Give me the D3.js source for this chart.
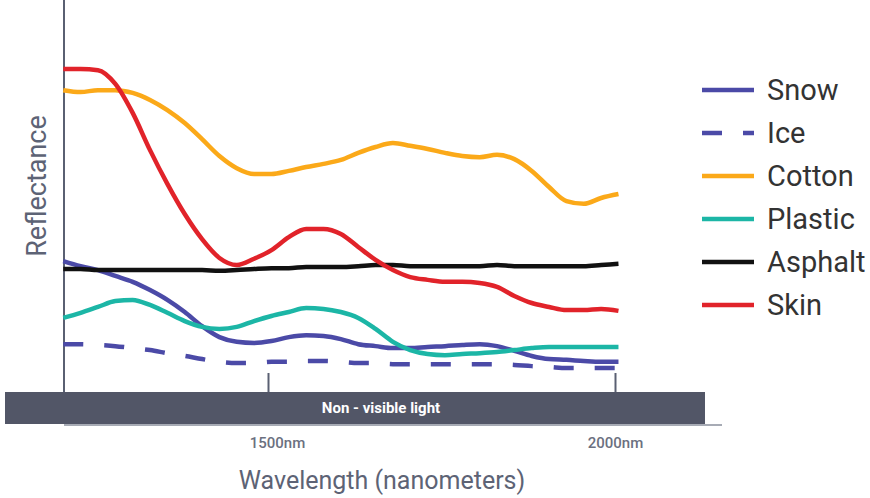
<!DOCTYPE html>
<html>
<head>
<meta charset="utf-8">
<script src="https://cdn.jsdelivr.net/npm/d3@7"></script>
<style>
  body { margin: 0; background: #fff; }
  svg { display: block; font-family: Roboto, "Noto Sans", sans-serif; }
</style>
</head>
<body>
<div id="chart"></div>
<script>
// wavelengths sampled every 25nm
var wavelengths = d3.range(1205, 2006, 25);

// reflectance (%)
var snow = [33.4, 32.1, 31.1, 29.6, 28.1, 26.0, 23.5, 20.4, 16.8, 14.0, 12.8, 12.5, 13.0, 14.0, 14.5, 14.3, 13.5,
  12.2, 11.7, 11.2, 11.2, 11.5, 11.7, 12.0, 12.2, 11.7, 10.5, 9.2, 8.4, 8.2, 7.9, 7.7, 7.7];
var ice = [12.2, 12.2, 12.0, 11.7, 11.2, 10.7, 9.9, 9.2, 8.4, 7.7, 7.4, 7.4, 7.7, 7.7, 7.9, 7.9, 7.7,
  7.4, 7.4, 7.1, 7.1, 7.1, 7.1, 7.1, 7.1, 7.1, 6.9, 6.6, 6.4, 6.1, 6.1, 6.1, 6.1];
var cotton = [77.0, 76.5, 77.0, 77.0, 76.3, 74.5, 71.9, 68.6, 64.5, 60.2, 57.1, 55.6, 55.6, 56.4, 57.4, 58.2, 59.2,
  61.0, 62.5, 63.5, 62.8, 62.0, 61.0, 60.2, 59.9, 60.5, 59.4, 56.4, 52.3, 48.7, 48.0, 49.5, 50.5];
var plastic = [18.9, 20.2, 21.7, 23.2, 23.5, 22.2, 20.2, 18.1, 16.6, 16.1, 16.6, 18.1, 19.4, 20.4, 21.4, 21.2, 20.4,
  18.9, 16.1, 12.8, 10.7, 9.7, 9.4, 9.7, 9.9, 10.2, 10.7, 11.2, 11.5, 11.5, 11.5, 11.5, 11.5];
var asphalt = [31.4, 31.4, 31.1, 31.1, 31.1, 31.1, 31.1, 31.1, 31.1, 30.9, 31.1, 31.4, 31.6, 31.6, 31.9, 31.9, 31.9,
  32.1, 32.4, 32.4, 32.1, 32.1, 32.1, 32.1, 32.1, 32.4, 32.1, 32.1, 32.1, 32.1, 32.1, 32.4, 32.7];
var skin = [82.4, 82.4, 82.1, 78.6, 71.2, 61.7, 53.1, 45.4, 39.0, 34.2, 32.4, 34.0, 36.2, 39.5, 41.6, 41.6, 40.3,
  37.0, 33.7, 31.1, 29.3, 28.6, 28.1, 28.1, 27.8, 26.8, 24.5, 22.7, 21.7, 20.9, 20.9, 21.2, 20.7];

var tickValues = [1500, 2000];
var tickLabels = ["1500nm", "2000nm"];

var seriesNames = ["Snow", "Ice", "Cotton", "Plastic", "Asphalt", "Skin"];
var seriesValues = [snow, ice, cotton, plastic, asphalt, skin];
var seriesColors = ["#4b4aa7", "#4b4aa7", "#fba919", "#1cb6a6", "#111111", "#e1232a"];
var seriesDash = [null, "20,21", null, null, null, null];
var drawOrder = [1, 0, 3, 4, 2, 5];

var width = 870, height = 498;
var axisY = 392;

var svg = d3.select("#chart").append("svg")
  .attr("width", width)
  .attr("height", height);

var x = d3.scaleLinear().domain([1500, 2000]).range([268, 615]);
var y = d3.scaleLinear().domain([0, 100]).range([axisY, 0]);

var line = d3.line()
  .x(function(d) { return x(d[0]); })
  .y(function(d) { return y(d[1]); })
  .curve(d3.curveMonotoneX);

// y axis line
svg.append("line")
  .attr("x1", 64).attr("x2", 64)
  .attr("y1", 0).attr("y2", axisY)
  .attr("stroke", "#5a6072")
  .attr("stroke-width", 2);

// band
svg.append("line")
  .attr("x1", 64).attr("x2", 722)
  .attr("y1", 425).attr("y2", 425)
  .attr("stroke", "#8a8f9c")
  .attr("stroke-width", 1.5);
svg.append("rect")
  .attr("x", 5).attr("y", axisY)
  .attr("width", 700).attr("height", 32)
  .attr("fill", "#525667");
svg.append("text")
  .attr("x", 381).attr("y", 409)
  .attr("text-anchor", "middle")
  .attr("dominant-baseline", "middle")
  .attr("fill", "#fff")
  .attr("font-size", 15)
  .attr("font-weight", 700)
  .text("Non - visible light");

// ticks above band
var tickAxis = svg.append("g")
  .attr("transform", "translate(0," + axisY + ")")
  .call(d3.axisTop(x).tickValues(tickValues).tickSize(19).tickFormat(""));
tickAxis.select(".domain").remove();
tickAxis.selectAll(".tick line").attr("stroke", "#5a6072").attr("stroke-width", 2);

// tick labels below band
var labelAxis = svg.append("g")
  .attr("transform", "translate(0,425)")
  .call(d3.axisBottom(x).tickValues(tickValues).tickSize(0).tickPadding(12)
    .tickFormat(function(d, i) { return tickLabels[i]; }));
labelAxis.select(".domain").remove();
labelAxis.selectAll(".tick text")
  .attr("font-family", "Roboto, sans-serif")
  .attr("font-size", 15)
  .attr("font-weight", 500)
  .attr("fill", "#6b7080")
  .attr("dx", function(d, i) { return i == 0 ? 9 : 0; });

// axis titles
svg.append("text")
  .attr("x", 382).attr("y", 489)
  .attr("text-anchor", "middle")
  .attr("fill", "#5d6375")
  .attr("font-size", 25)
  .text("Wavelength (nanometers)");
svg.append("text")
  .attr("transform", "translate(46,186) rotate(-90)")
  .attr("text-anchor", "middle")
  .attr("fill", "#5d6375")
  .attr("font-size", 27)
  .text("Reflectance");

// curves
drawOrder.forEach(function(i) {
  var pts = wavelengths.map(function(w, j) { return [w, seriesValues[i][j]]; });
  svg.append("path")
    .datum(pts)
    .attr("d", line)
    .attr("fill", "none")
    .attr("stroke", seriesColors[i])
    .attr("stroke-width", 4.5)
    .attr("stroke-dasharray", seriesDash[i]);
});

// legend
var ly = d3.scalePoint().domain(seriesNames).range([90, 305]);
var legend = svg.selectAll(".legend")
  .data(seriesNames)
  .enter().append("g")
  .attr("class", "legend")
  .attr("transform", function(d) { return "translate(702," + ly(d) + ")"; });
legend.append("line")
  .attr("x1", 0).attr("x2", 52)
  .attr("stroke", function(d, i) { return seriesColors[i]; })
  .attr("stroke-width", 4.5)
  .attr("stroke-dasharray", function(d, i) { return seriesDash[i]; });
legend.append("text")
  .attr("x", 65).attr("y", 2)
  .attr("dominant-baseline", "middle")
  .attr("fill", "#333")
  .attr("font-size", 29)
  .text(function(d) { return d; });
</script>
</body>
</html>
